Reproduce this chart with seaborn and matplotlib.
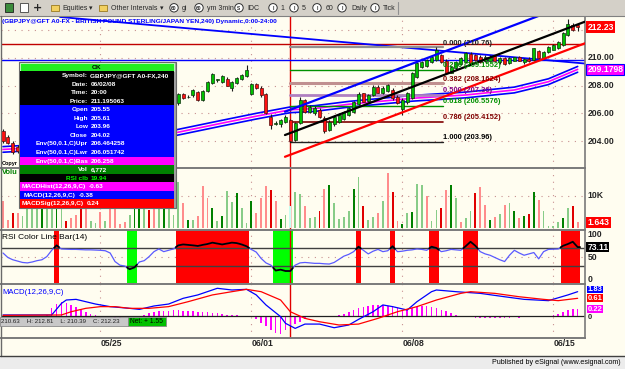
import matplotlib
matplotlib.use("Agg")
import matplotlib.pyplot as plt
import matplotlib.transforms as mtrans
from matplotlib.patches import Rectangle, Circle
import numpy as np
import pandas as pd
import seaborn as sns

sns.set_theme(style="white")
FONT = ['Liberation Sans Narrow', 'Liberation Sans', 'DejaVu Sans']
plt.rcParams['font.family'] = FONT
plt.rcParams['axes.unicode_minus'] = False

# ------------------------------------------------------------------ data
opens = [204.70, 204.30, 203.90, 203.60, 203.30, 203.15, 203.05, 203.40, 203.75, 203.90,
         204.30, 205.00, 205.80, 205.70, 205.80, 205.90, 205.85, 206.00, 205.95, 206.10,
         206.05, 206.15, 206.00, 205.80, 204.85, 204.40, 204.30, 203.80, 204.00, 204.50,
         204.70, 205.10, 205.70, 206.10, 205.80, 206.10, 206.75, 207.38, 207.15, 207.30,
         207.57, 206.97, 207.60, 208.17, 208.41, 208.29, 208.48, 207.81, 208.17, 208.48,
         208.72, 207.38, 208.10, 207.86, 207.38, 205.76, 205.25, 205.20, 205.40, 205.55,
         204.10, 205.30, 206.97, 206.12, 206.00, 206.25, 205.70, 204.80, 205.20, 205.40,
         205.60, 205.88, 206.12, 206.66, 207.45, 206.90, 207.33, 207.93, 207.50, 207.62,
         207.69, 207.20, 206.30, 206.80, 207.13, 208.65, 209.37, 209.40, 209.73, 209.86,
         210.20, 209.80, 208.95, 209.30, 209.60, 209.73, 210.30, 210.20, 210.10, 209.75,
         209.80, 210.15, 209.70, 210.00, 209.65, 209.80, 210.05, 209.70, 209.95, 209.86,
         210.50, 210.00, 210.40, 210.60, 210.70, 210.94, 211.66, 212.38, 212.38]
highs = [204.90, 204.45, 204.00, 203.75, 203.50, 203.40, 203.55, 203.85, 204.05, 204.45,
         205.15, 205.95, 205.95, 205.95, 206.05, 206.10, 206.15, 206.20, 206.25, 206.30,
         206.30, 206.25, 206.10, 205.90, 205.00, 204.60, 204.40, 204.15, 204.60, 204.85,
         205.20, 205.80, 206.20, 206.20, 206.20, 206.70, 207.50, 207.50, 207.30, 207.75,
         207.65, 207.70, 208.35, 208.90, 208.50, 208.80, 208.60, 208.35, 208.65, 208.85,
         209.50, 208.20, 208.20, 207.95, 207.45, 205.95, 205.45, 205.60, 205.85, 205.61,
         205.40, 207.20, 207.05, 206.60, 206.50, 206.40, 205.80, 205.50, 205.85, 206.00,
         206.20, 206.45, 206.90, 207.55, 207.50, 207.40, 208.05, 208.05, 207.95, 208.10,
         207.80, 207.30, 207.10, 207.55, 209.00, 209.70, 209.80, 209.95, 210.20, 210.76,
         210.30, 209.90, 209.45, 209.75, 210.10, 210.45, 210.40, 210.30, 210.25, 210.20,
         210.20, 210.25, 210.05, 210.10, 210.05, 210.10, 210.15, 210.00, 210.05, 210.75,
         210.60, 210.50, 210.85, 211.00, 211.25, 211.85, 212.81, 212.55, 212.45]
lows = [203.90, 203.80, 203.10, 203.15, 202.95, 202.90, 202.95, 203.30, 203.60, 203.80,
        204.20, 204.90, 205.50, 205.55, 205.65, 205.70, 205.75, 205.80, 205.85, 205.90,
        205.95, 205.85, 205.65, 204.70, 204.30, 204.15, 203.70, 203.65, 203.90, 204.40,
        204.60, 205.00, 205.60, 205.70, 205.70, 206.00, 206.60, 207.05, 207.10, 207.20,
        206.90, 206.90, 207.55, 208.10, 208.30, 208.20, 207.95, 207.60, 208.10, 208.40,
        208.65, 207.30, 207.75, 207.20, 205.95, 204.90, 205.15, 205.05, 205.30, 203.96,
        203.98, 205.20, 206.00, 206.00, 205.90, 205.70, 204.56, 204.70, 205.10, 205.30,
        205.50, 205.80, 206.05, 206.60, 206.80, 206.80, 207.25, 207.45, 207.40, 207.55,
        207.00, 206.65, 205.90, 206.70, 207.05, 208.55, 209.30, 209.35, 209.65, 209.80,
        209.65, 208.85, 208.90, 209.20, 209.50, 209.65, 209.60, 209.80, 209.65, 209.70,
        209.75, 209.75, 209.60, 209.50, 209.60, 209.75, 209.75, 209.60, 209.70, 209.80,
        209.90, 209.95, 210.35, 210.55, 210.65, 210.90, 211.60, 211.95, 211.95]
closes = [204.00, 203.90, 203.20, 203.30, 203.15, 203.05, 203.40, 203.75, 203.90, 204.30,
          205.00, 205.80, 205.70, 205.80, 205.90, 205.85, 206.00, 205.95, 206.10, 206.05,
          206.15, 206.00, 205.80, 204.85, 204.40, 204.30, 203.80, 204.00, 204.50, 204.70,
          205.10, 205.70, 206.10, 205.80, 206.10, 206.60, 207.40, 207.13, 207.20, 207.70,
          206.97, 207.62, 208.29, 208.82, 208.41, 208.72, 208.00, 208.29, 208.58, 208.77,
          209.13, 208.10, 207.81, 207.33, 206.00, 205.16, 205.30, 205.50, 205.76, 204.02,
          205.30, 206.97, 206.12, 206.48, 206.37, 205.76, 204.70, 205.40, 205.76, 205.88,
          206.12, 206.37, 206.80, 207.38, 206.85, 207.30, 207.93, 207.50, 207.85, 208.05,
          207.09, 206.73, 207.00, 207.45, 208.90, 209.62, 209.73, 209.85, 210.10, 210.58,
          209.73, 208.95, 209.37, 209.70, 210.00, 210.34, 209.65, 209.85, 209.70, 210.10,
          210.10, 209.80, 210.00, 209.60, 210.00, 210.05, 209.80, 209.95, 209.75, 210.70,
          210.00, 210.45, 210.80, 210.95, 211.18, 211.78, 212.43, 212.02, 212.23]

volume_k = [8.2, 2.3, 4.6, 4.6, 3.5, 9.0, 10.5, 12.0, 8.0, 11.0,
            6.0, 9.5, 7.0, 2.1, 2.9, 4.1, 8.5, 10.0, 2.1, 1.6,
            5.0, 2.1, 7.5, 9.0, 1.2, 1.8, 4.0, 12.0, 10.0, 8.0,
            5.5, 9.0, 6.0, 11.0, 7.0, 4.0, 14.4, 7.7, 2.3, 2.3,
            3.6, 12.9, 9.3, 6.2, 2.1, 3.6, 11.5, 8.0, 10.8, 6.2,
            1.4, 8.4, 4.6, 9.3, 12.9, 11.8, 8.2, 2.6, 4.1, 6.772,
            11.1, 10.6, 6.9, 3.1, 3.3, 5.3, 12.1, 13.2, 7.7, 2.8,
            3.3, 5.3, 12.0, 15.9, 6.7, 2.4, 3.3, 4.5, 8.2, 17.0,
            11.1, 2.1, 1.0, 4.5, 4.8, 13.8, 13.4, 10.0, 2.1, 5.5,
            6.0, 11.9, 13.4, 9.3, 1.9, 2.9, 5.3, 10.8, 12.6, 7.2,
            2.3, 3.3, 4.3, 7.0, 7.7, 5.3, 3.0, 3.6, 4.3, 11.1,
            8.7, 5.3, 0.5, 0.4, 1.9, 2.9, 6.2, 6.7, 1.643]
volume_kind = ("rrRrggggGg" "gGgRrrRrgg" "rgrrrrgGGg" "RrgGgggrGg" "rrrGgGggGg"
               "gGrrrRrGgc" "ggrggRrGgg" "ggGgRggrgr" "RrGgGggrgg" "RrGgrggRrr"
               "GrgrgGrGRG" "rggggGgRr")

rsi = [60, 50, 45, 42, 39, 38, 40, 43, 45, 52,
       66, 77, 69, 68.5, 68, 68, 67.5, 67, 67, 66.5,
       66, 65, 60, 41, 33, 31, 24, 28, 40, 43,
       52, 63, 69, 63, 66, 69, 77, 79, 78, 77,
       75.6, 78, 80, 83, 81, 79, 81, 83, 82, 79,
       75, 68, 62, 48, 38, 33, 21, 23, 20, 19.94,
       33, 38, 39, 38, 37, 37, 36, 35.5, 39, 46,
       53, 57, 63, 74, 66, 58, 64, 68, 63, 65,
       75, 63, 64, 66, 67, 69, 68, 66, 74, 71,
       63, 65, 68, 67, 66, 75, 85, 76, 63, 58,
       55, 50, 45, 41, 55, 66, 60, 55, 58, 61,
       47, 63, 68, 68.5, 69, 76, 80, 85, 73.11]

macd_idx = [0, 10, 12, 13, 15, 17, 19, 22, 26, 28, 31, 34, 37, 40, 44, 47, 50, 52, 54, 57,
            58, 60, 62, 65, 68, 71, 73, 76, 78, 80, 83, 85, 88, 89, 93, 98, 103, 107, 112, 116, 118]
macd_val = [0.08, 0.08, 0.97, 1.23, 1.28, 1.1, 0.92, 0.72, 0.59, 0.51, 0.77, 0.92, 1.36, 1.62,
            2.13, 2.0, 2.05, 1.62, 0.85, -0.05, -0.56, -0.95, -0.62, -0.62, -0.9, -0.69, -0.26,
            0.33, 0.85, 0.72, 0.46, 1.1, 1.87, 2.0, 1.87, 1.74, 1.48, 1.28, 1.18, 1.62, 1.87]
sig_idx = [0, 12, 14, 17, 20, 23, 26, 30, 34, 38, 43, 47, 50, 53, 57, 59, 62, 65, 69, 73,
           77, 81, 85, 89, 94, 96, 101, 106, 111, 114, 118]
sig_val = [0.05, 0.08, 0.33, 0.59, 0.72, 0.72, 0.59, 0.59, 0.72, 1.1, 1.62, 1.87, 2.05, 1.87,
           1.23, 0.33, -0.18, -0.44, -0.69, -0.62, -0.18, 0.33, 0.72, 1.23, 1.74, 1.87, 1.74,
           1.48, 1.28, 1.18, 1.36]
hist = [0, 0, 0, 0, 0, 0, 0, 0, 0, 0.05,
        0.6, 0.95, 1.05, 1.0, 0.85, 0.7, 0.5, 0.3, 0.15, 0.05,
        -0.05, -0.1, -0.1, -0.12, -0.12, -0.1, -0.08, -0.05, 0.0, 0.1,
        0.2, 0.3, 0.35, 0.4, 0.4, 0.45, 0.45, 0.4, 0.4, 0.35,
        0.3, 0.3, 0.3, 0.25, 0.2, 0.15, 0.1, 0.05, 0.05, 0.0,
        -0.02, -0.1, -0.25, -0.5, -0.8, -1.1, -1.3, -1.4, -1.1, -0.8,
        -0.6, -0.45, -0.2, -0.05, 0.0, 0.0, 0.0, -0.02, 0.0, 0.05,
        0.15, 0.3, 0.45, 0.6, 0.7, 0.8, 0.85, 0.85, 0.85, 0.8,
        0.75, 0.6, 0.5, 0.55, 0.6, 0.7, 0.75, 0.75, 0.7, 0.6,
        0.5, 0.35, 0.2, 0.1, 0.0, -0.05, -0.1, -0.12, -0.15, -0.15,
        -0.15, -0.15, -0.15, -0.12, -0.12, -0.1, -0.12, -0.1, -0.08, -0.08,
        -0.05, -0.02, 0.0, 0.05, 0.15, 0.3, 0.45, 0.55, 0.55]
macd_last_labels = ['1.83', '0.61', '0.22']
macd_label_pos = [2.04, 1.38, 0.52]   # where the value tags sit on the right scale
macd_zero_label_pos = -0.12

env_idx = [0, 15, 34, 45, 52, 59, 64, 71, 84, 95, 105, 112, 118]
env_base = [203.4, 203.7, 204.5, 205.3, 205.8, 206.26, 206.35, 206.66, 207.09, 207.33, 207.69, 208.29, 209.18]
ENV_PCT = 0.1

date_idx = [20, 51, 82, 113]
date_labels = ['05/25', '06/01', '06/08', '06/15']
cursor_idx = 59

fib_high, fib_low = 210.76, 203.96
fib_ratios = [0.0, 0.236, 0.382, 0.5, 0.618, 0.786, 1.0]
fib_labels = ['0.000 (210.76)', '0.236 (209.1552)', '0.382 (208.1624)', '0.500 (207.36)',
              '0.618 (206.5576)', '0.786 (205.4152)', '1.000 (203.96)']
fib_span = [59, 90.3]

chan_x = [57.9, 119.5]
chan_mid = [204.44, 212.62]
chan_up = [206.12, 214.30]
chan_lo = [202.87, 211.06]
down_x = [11.7, 119.5]
down_y = [212.96, 209.60]
hline_blue = 209.86
hline_red = 211.00

price_ticks = [204, 206, 208, 210, 212]

# data-window rows: (label, value, background, text colour)
window_rows = [
    ('Symbol:', 'GBPJPY@GFT A0-FX,240', '#000000', 'white'),
    ('Date:', '06/02/08', '#000000', 'white'),
    ('Time:', '20:00', '#000000', 'white'),
    ('Price:', '211.195063', '#000000', 'white'),
    ('Open', '205.55', '#0000FF', 'white'),
    ('High', '205.61', '#0000FF', 'white'),
    ('Low', '203.96', '#0000FF', 'white'),
    ('Close', '204.02', '#0000FF', 'white'),
    ('Env(50,0.1,C)Upr', '206.464258', '#0000FF', 'white'),
    ('Env(50,0.1,C)Lwr', '206.051742', '#0000FF', 'white'),
    ('Env(50,0.1,C)Bas', '206.258', '#FF00FF', 'white'),
    ('Vol', '6,772', '#008000', 'white'),
    ('RSI clb', '19.94', '#000000', '#00FF00'),
    ('MACDHist(12,26,9,C)', '-0.63', '#FF00FF', 'white'),
    ('MACD(12,26,9,C)', '-0.38', '#0000FF', 'white'),
    ('MACDSig(12,26,9,C)', '0.24', '#FF0000', 'white'),
]

# ------------------------------------------------------------------ layout
W, H = 625, 369
BG = '#FFFDF0'
fig = plt.figure(figsize=(W / 100, H / 100), dpi=100)
fig.patch.set_facecolor(BG)
R = fig.canvas.get_renderer()

BAR_PX, FIRST_PX = 4.87, 3.0
XL = ((1 - FIRST_PX) / BAR_PX, (585 - FIRST_PX) / BAR_PX)


def px_axes(x0, y0, x1, y1, z=1):
    return fig.add_axes([x0 / W, 1 - y1 / H, (x1 - x0) / W, (y1 - y0) / H], zorder=z)


def text_w(s, fs, **kw):
    t = fig.text(0, 0, s, fontsize=fs, **kw)
    bb = t.get_window_extent(renderer=R)
    t.remove()
    return bb.width


def fit_size(s, w, **kw):
    tw = text_w(s, 6, **kw)
    return 6 * w / tw if tw > 0 else 6


def fit(ax, x, y, s, w, **kw):
    t = ax.text(x, y, s, fontsize=6, **kw)
    bb = t.get_window_extent(renderer=R)
    if bb.width > 0:
        t.set_fontsize(6 * w / bb.width)
    return t


ax_p = px_axes(1, 16, 585, 168)
ax_v = px_axes(1, 168, 585, 229)
ax_r = px_axes(1, 230, 585, 283)
ax_m = px_axes(1, 284, 585, 338)
panels = [ax_p, ax_v, ax_r, ax_m]
ax_p.set_ylim(202.06, 213.03)
ax_v.set_ylim(-0.41, 18.65)
ax_r.set_ylim(-6.67, 111.1)
ax_m.set_ylim(-1.69, 2.46)

GRID = dict(color='#C89090', lw=0.8, ls=(0, (1, 5)), zorder=0.5)
for ax in panels:
    ax.set_xlim(*XL)
    ax.set_facecolor(BG)
    ax.set_xticks([])
    ax.set_yticks([])
    for s in ['left', 'top', 'bottom']:
        ax.spines[s].set_visible(False)
    ax.spines['right'].set_color('#7A7A7A')
    ax.spines['right'].set_linewidth(1.2)
    for d in date_idx:
        ax.axvline(d, **GRID)
    ax.axvline(cursor_idx, color='#E00000', lw=1.0, zorder=1.5)
for ax in [ax_v, ax_r, ax_m]:
    ax.spines['top'].set_visible(True)
    ax.spines['top'].set_color('#7A7A7A')
    ax.spines['top'].set_linewidth(1.4)
ax_m.spines['bottom'].set_visible(True)
ax_m.spines['bottom'].set_color('#7A7A7A')
ax_m.spines['bottom'].set_linewidth(1.4)

AXFS = fit_size('210.00', 27, fontweight='bold')
TAGFS = AXFS * 0.88
TAGBOX = dict(boxstyle='square,pad=0.06', ec='none')

# ------------------------------------------------------------------ price
idx = np.arange(len(closes))
o, h, l, c = map(np.array, (opens, highs, lows, closes))
for v in price_ticks:
    ax_p.axhline(v, **GRID)

ax_p.axhline(hline_red, color='#C00000', lw=1.0, zorder=2)
ax_p.axhline(hline_blue, color='#0000FF', lw=1.0, zorder=2)
ax_p.plot(down_x, down_y, color='#0000FF', lw=1.3, zorder=2)

base = np.array(env_base)
env_df = pd.DataFrame({'i': env_idx, 'base': base,
                       'upr': base * (1 + ENV_PCT / 100), 'lwr': base * (1 - ENV_PCT / 100)})
sns.lineplot(data=env_df, x='i', y='upr', ax=ax_p, color='#0000FF', lw=1.2, zorder=2)
sns.lineplot(data=env_df, x='i', y='lwr', ax=ax_p, color='#0000FF', lw=1.2, zorder=2)
sns.lineplot(data=env_df, x='i', y='base', ax=ax_p, color='#FF00FF', lw=1.2, zorder=2)

fib_colors = ['#909090', '#009000', '#C09090', '#B080C0', '#009000', '#800000', '#202020']
fib_tcols = ['#202020', '#009000', '#800000', '#800080', '#009000', '#800000', '#000000']
fib_lw = [1.6, 1.0, 2.2, 2.0, 1.0, 1.2, 1.0]
FIBFS = fit_size('0.382 (208.1624)', 58, fontweight='bold')
for r, col, tc, lw, lab in zip(fib_ratios, fib_colors, fib_tcols, fib_lw, fib_labels):
    lvl = fib_high - r * (fib_high - fib_low)
    ax_p.plot(fib_span, [lvl, lvl], color=col, lw=lw, zorder=2.2)
    ax_p.text(fib_span[1] + 0.15, lvl + 0.06, lab, fontsize=FIBFS, color=tc,
              va='bottom', ha='left', fontweight='bold', zorder=6)

body_w = 0.62
ax_p.vlines(idx, l, h, color='#1A1A1A', lw=0.8, zorder=3)
up = c >= o
bh = np.maximum(np.abs(c - o), 0.05)
ax_p.bar(idx[up], bh[up], bottom=np.minimum(o, c)[up], width=body_w, color='#00C000',
         edgecolor='#103010', lw=0.5, zorder=3.5)
ax_p.bar(idx[~up], bh[~up], bottom=np.minimum(o, c)[~up], width=body_w, color='#FF1010',
         edgecolor='#501010', lw=0.5, zorder=3.5)

ax_p.plot(chan_x, chan_up, color='#0000FF', lw=1.6, zorder=4)
ax_p.plot(chan_x, chan_mid, color='#000000', lw=1.6, zorder=4)
ax_p.plot(chan_x, chan_lo, color='#FF0000', lw=1.6, zorder=4)

yt = ax_p.get_yaxis_transform()
for v in price_ticks:
    ax_p.text(1.005, v, f'{v:.2f}', fontsize=AXFS, transform=yt, va='center', ha='left',
              fontweight='bold', clip_on=False, zorder=7)
ax_p.text(1.004, closes[-1], f'{closes[-1]:.2f}', fontsize=AXFS, transform=yt, va='center',
          ha='left', fontweight='bold', color='white', clip_on=False, zorder=8,
          bbox=dict(boxstyle='square,pad=0.15', fc='#FF0000', ec='none'))
ax_p.text(1.004, env_base[-1], '209.1798', fontsize=AXFS, transform=yt, va='center', ha='left',
          fontweight='bold', color='white', clip_on=False, zorder=8,
          bbox=dict(boxstyle='square,pad=0.12', fc='#FF00FF', ec='#0000FF', lw=0.8))

# ------------------------------------------------------------------ volume
vol_colors = {'G': '#008000', 'g': '#88CC88', 'R': '#E00000', 'r': '#FF8C8C', 'c': '#C8FFF0'}
ax_v.axhline(10, **GRID)
vk = np.array(volume_k)
for k, col in vol_colors.items():
    m = np.array([ch == k for ch in volume_kind])
    ax_v.bar(idx[m], vk[m], width=0.38, color=col, lw=0, zorder=2)
yt = ax_v.get_yaxis_transform()
ax_v.text(1.005, 10, '10K', fontsize=AXFS, transform=yt, va='center', ha='left',
          fontweight='bold', clip_on=False)
ax_v.text(1.004, volume_k[-1], '1.643', fontsize=AXFS, transform=yt, va='center', ha='left',
          fontweight='bold', color='white', clip_on=False,
          bbox=dict(boxstyle='square,pad=0.15', fc='#FF0000', ec='none'))

# ------------------------------------------------------------------ RSI
rs = np.array(rsi, dtype=float)
lo_r, hi_r = ax_r.get_ylim()
hot = rs >= 70
cold = rs <= 30
ax_r.bar(idx[hot], hi_r - lo_r, bottom=lo_r, width=1.0, color='#FF0000', lw=0, zorder=1)
ax_r.bar(idx[cold], hi_r - lo_r, bottom=lo_r, width=1.0, color='#00FF00', lw=0, zorder=1)
ax_r.axhline(50, **GRID)
ax_r.axhline(70, color='#404040', lw=1.0, zorder=2)
ax_r.axhline(30, color='#404040', lw=1.0, zorder=2)
sns.lineplot(x=idx, y=rs, ax=ax_r, color='#5A5AFF', lw=0.9, zorder=3)
zone = hot | cold
i = 0
while i < len(rs):
    if zone[i]:
        j = i
        while j + 1 < len(rs) and zone[j + 1]:
            j += 1
        xs = [i - 0.5] + list(range(i, j + 1)) + [j + 0.5]
        ys = np.interp(xs, idx, rs)
        ax_r.plot(xs, ys, color='black', lw=1.3, zorder=4)
        i = j + 1
    else:
        i += 1
yt = ax_r.get_yaxis_transform()
for v in (100, 50, 0):
    ax_r.text(1.005, v, str(v), fontsize=AXFS, transform=yt, va='center', ha='left',
              fontweight='bold', clip_on=False)
ax_r.text(1.004, rsi[-1], f'{rsi[-1]:.2f}', fontsize=AXFS, transform=yt, va='center', ha='left',
          fontweight='bold', color='white', clip_on=False,
          bbox=dict(boxstyle='square,pad=0.1', fc='#000000', ec='none'))

# ------------------------------------------------------------------ MACD
hs = np.array(hist)
ax_m.bar(idx, hs, width=0.32, color='#FF00FF', lw=0, zorder=2)
ax_m.axhline(0, color='#202020', lw=0.9, zorder=2.5)
sns.lineplot(x=macd_idx, y=macd_val, ax=ax_m, color='#0000FF', lw=0.9, zorder=3)
sns.lineplot(x=sig_idx, y=sig_val, ax=ax_m, color='#FF0000', lw=0.9, zorder=3)
yt = ax_m.get_yaxis_transform()
ax_m.text(1.005, macd_zero_label_pos, '0', fontsize=TAGFS, transform=yt, va='center', ha='left',
          fontweight='bold', clip_on=False)
for pos, lab, col in zip(macd_label_pos, macd_last_labels, ['#0000FF', '#FF0000', '#FF00FF']):
    ax_m.text(1.004, pos, lab, fontsize=TAGFS, transform=yt, va='center', ha='left',
              fontweight='bold', color='white', clip_on=False,
              bbox=dict(TAGBOX, fc=col))
bt = mtrans.blended_transform_factory(ax_m.transData, ax_m.transAxes)
for d, lab in zip(date_idx, date_labels):
    ax_m.text(d, -0.11, lab, fontsize=AXFS, transform=bt, va='center', ha='left',
              fontweight='bold', clip_on=False)

# ------------------------------------------------------------------ overlay
ov = fig.add_axes([0, 0, 1, 1], zorder=30)
ov.set_xlim(0, W)
ov.set_ylim(H, 0)
ov.axis('off')

# toolbar
ov.add_patch(Rectangle((0, 0), W, 15.5, fc='#D4D0C8', ec='none'))
ov.plot([0, W], [15.5, 15.5], color='#808080', lw=0.8)
ov.add_patch(Rectangle((5, 3), 8, 9, fc='#3C8C3C', ec='#202020', lw=0.6))
ov.add_patch(Rectangle((20, 3), 8, 9, fc='white', ec='#404040', lw=0.6))
ov.text(38, 7.8, '+', ha='center', va='center', fontsize=8, fontweight='bold', family='DejaVu Sans')
for fx in (51, 99):
    ov.add_patch(Rectangle((fx, 4.5), 8, 6.5, fc='#F2D060', ec='#9A7A20', lw=0.6))
TBFS = fit_size('Other Intervals', 47)
ov.text(62, 8, 'Equities', fontsize=TBFS, va='center', ha='left')
ov.text(111, 8, 'Other Intervals', fontsize=TBFS, va='center', ha='left')
for tx in (91, 162):
    ov.text(tx, 8, '\u25be', va='center', ha='center', fontsize=5, family='DejaVu Sans')
circ_x = [174, 199, 239, 273, 294, 317, 342, 375]
circ_t = ['60', '60', 'S', 'I', 'I', 'I', 'I', 'I']
lab_x = [182, 207, 247, 280, 302, 326, 351, 383]
lab_t = ['gi', 'ym 3min', 'IDC', '1', '5', '60', 'Daily', 'Tick']
for cx, ct, lx, lt in zip(circ_x, circ_t, lab_x, lab_t):
    ov.add_patch(Circle((cx, 7.8), 4.2, fc='white', ec='#303030', lw=0.7))
    ov.text(cx, 8, ct, ha='center', va='center', fontsize=3.5, fontweight='bold')
    ov.text(lx, 8, lt, fontsize=TBFS, va='center', ha='left')
ov.plot([398, 398], [2, 13.5], color='#909090', lw=0.8)

# title and panel captions (the left ends visible beside the data window)
fit(ov, 2, 21, '(GBPJPY@GFT A0-FX - BRITISH POUND STERLING/JAPAN YEN,240) Dynamic,0:00-24:00',
    278, color='#0000FF', va='center', ha='left', fontweight='bold')
fit(ov, 1.5, 163.5, 'Copyr', 16, color='black', va='center', ha='left', fontweight='bold')
fit(ov, 1.5, 173, 'Volu', 16, color='#008000', va='center', ha='left', fontweight='bold')
fit(ov, 2, 237.5, 'RSI Color Line Bar(14)', 85, color='black', va='center', ha='left')
fit(ov, 2, 292, 'MACD(12,26,9,C)', 62, color='#0000FF', va='center', ha='left')

# status box inside MACD panel
ov.add_patch(Rectangle((0, 317), 128, 8.5, fc='#C8C8C8', ec='#8A8A8A', lw=0.6, zorder=3))
fit(ov, 1, 321.4, '210.63    H: 212.81    L: 210.39    C: 212.23', 120, va='center', ha='left',
    color='#202020', zorder=4)
ov.add_patch(Rectangle((128, 317), 38, 8.5, fc='#00C000', ec='#8A8A8A', lw=0.6, zorder=3))
fit(ov, 130, 321.4, 'Net: + 1.55', 33, va='center', ha='left', color='black', zorder=4)

# data window
WX0, WX1, WY0 = 20, 174, 62.7
ov.add_patch(Rectangle((WX0 - 1.5, WY0 - 1.2), WX1 - WX0 + 3, 146.5, fc='#A0A0A0',
                       ec='#6A6A6A', lw=0.8, zorder=9))
ov.add_patch(Rectangle((WX0, WY0), WX1 - WX0, 8.3, fc='#22EE22', ec='#CCFFCC', lw=0.6, zorder=10))
WFS = fit_size('GBPJPY@GFT A0-FX,240', 79, fontweight='bold')
ov.text((WX0 + WX1) / 2, WY0 + 4.4, 'OK', fontsize=WFS, color='black', ha='center', va='center',
        fontweight='bold', zorder=11)
row_h = 8.55
col_main, col_macd = 88.0, 76.0
y = WY0 + 8.3
for k, (lab, val, bg, tc) in enumerate(window_rows):
    ov.add_patch(Rectangle((WX0, y), WX1 - WX0, row_h, fc=bg, ec='none', zorder=10))
    col = col_macd if lab.startswith('MACD') else col_main
    col = max(col, WX0 + 2 + text_w(lab, WFS, fontweight='bold'))
    ov.text(col, y + row_h / 2 + 0.3, lab, fontsize=WFS, color=tc, ha='right', va='center',
            fontweight='bold', zorder=11)
    ov.text(col + 2.5, y + row_h / 2 + 0.3, val, fontsize=WFS, color=tc, ha='left', va='center',
            fontweight='bold', zorder=11)
    y += row_h

# window frame lines and status bar
ov.plot([0.8, 0.8], [16, 356], color='#6A6A6A', lw=1.0)
ov.add_patch(Rectangle((0, 356), W, 13, fc='#ECECEC', ec='none'))
ov.plot([0, W], [356, 356], color='#404040', lw=1.0)
fit(ov, 621, 362.6, 'Published by eSignal (www.esignal.com)', 131, va='center', ha='right',
    color='black')

fig.savefig('out.png', dpi=100, facecolor=BG)
